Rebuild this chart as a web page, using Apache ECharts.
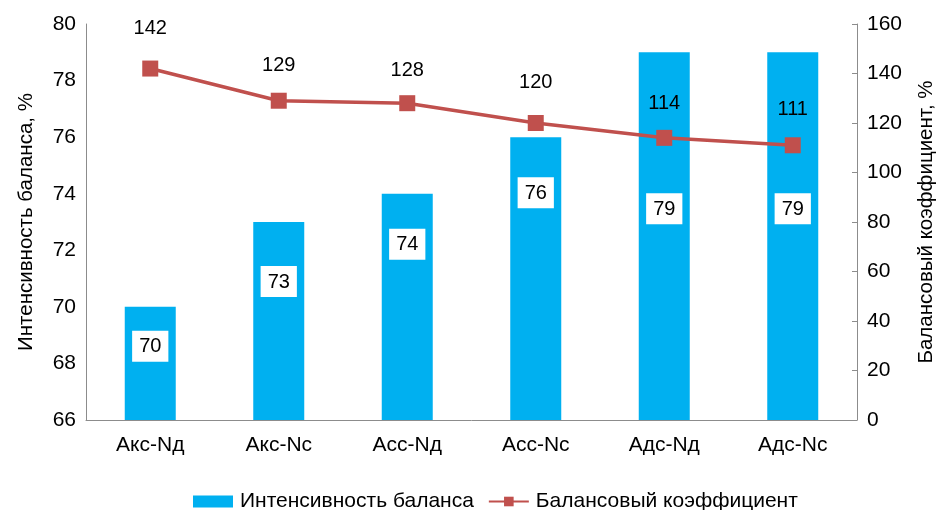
<!DOCTYPE html>
<html>
<head>
<meta charset="utf-8">
<script src="https://cdn.jsdelivr.net/npm/echarts@6/dist/echarts.min.js"></script>
<style>
  html, body { margin: 0; padding: 0; background: #fff; }
  #chart { width: 942px; height: 510px; }
</style>
</head>
<body>
<div id="chart"></div>
<script>
// Categories and series values
const categories = ['Акс-Nд', 'Акс-Nс', 'Асс-Nд', 'Асс-Nс', 'Адс-Nд', 'Адс-Nс'];
const intensity = [70, 73, 74, 76, 79, 79];          // Интенсивность баланса, %
const coefficient = [142, 129, 128, 120, 114, 111];  // Балансовый коэффициент, %

const FONT = '"Liberation Sans", Arial, sans-serif';
const AXIS_COLOR = '#8c8c8c';

// Placement of value labels (px): box below each bar top, number above each marker
const barLabelDistance = [24, 44, 35, 40, 141, 141];
const lineLabelDistance = [22, 17, 15, 23, 16, 18];

const chart = echarts.init(document.getElementById('chart'), null, { renderer: 'canvas' });

chart.setOption({
  animation: false,
  textStyle: { fontFamily: FONT },
  grid: { left: 86, right: 85, top: 24, bottom: 90, outerBoundsMode: 'none' },
  legend: {
    top: 486,
    left: 188,
    itemWidth: 40,
    itemHeight: 12,
    itemGap: 14,
    textStyle: { fontFamily: FONT, fontSize: 21, color: '#000', padding: [0, 0, 0, 2] },
    data: [
      { name: 'Интенсивность баланса', icon: 'rect' },
      { name: 'Балансовый коэффициент' }
    ]
  },
  xAxis: {
    type: 'category',
    data: categories,
    axisLine: { lineStyle: { color: AXIS_COLOR, width: 1 } },
    axisTick: { show: false },
    axisLabel: { color: '#000', fontSize: 21, fontFamily: FONT, margin: 15 }
  },
  yAxis: [
    {
      type: 'value',
      min: 66, max: 80, interval: 2,
      name: 'Интенсивность баланса, %',
      nameLocation: 'middle',
      nameRotate: 90,
      nameGap: 49,
      nameTextStyle: { color: '#000', fontSize: 20.5, fontFamily: FONT },
      axisLine: { show: true, lineStyle: { color: AXIS_COLOR } },
      axisTick: { show: false },
      splitLine: { show: false },
      axisLabel: { color: '#000', fontSize: 21, fontFamily: FONT, margin: 10 }
    },
    {
      type: 'value',
      min: 0, max: 160, interval: 20,
      name: 'Балансовый коэффициент, %',
      nameLocation: 'middle',
      nameRotate: 90,
      nameGap: 59,
      nameTextStyle: { color: '#000', fontSize: 20.5, fontFamily: FONT },
      axisLine: { show: true, lineStyle: { color: AXIS_COLOR } },
      axisTick: { show: true, inside: true, length: 5, lineStyle: { color: AXIS_COLOR } },
      splitLine: { show: false },
      axisLabel: { color: '#000', fontSize: 21, fontFamily: FONT, margin: 10 }
    }
  ],
  series: [
    {
      name: 'Интенсивность баланса',
      type: 'bar',
      yAxisIndex: 0,
      barWidth: 51,
      itemStyle: { color: '#00B0F0' },
      data: intensity.map((v, i) => ({
        value: v,
        label: { distance: barLabelDistance[i] }
      })),
      label: {
        show: true,
        position: 'insideTop',
        color: '#000',
        fontSize: 20,
        fontFamily: FONT,
        backgroundColor: '#fff',
        padding: [6, 7, 5, 7]
      }
    },
    {
      name: 'Балансовый коэффициент',
      type: 'line',
      yAxisIndex: 1,
      data: coefficient.map((v, i) => ({
        value: v,
        label: { distance: lineLabelDistance[i] }
      })),
      symbol: 'rect',
      symbolSize: 16,
      lineStyle: { color: '#C0504D', width: 3.5 },
      itemStyle: { color: '#C0504D' },
      label: {
        show: true,
        position: 'top',
        color: '#000',
        fontSize: 20,
        fontFamily: FONT
      }
    }
  ]
});
</script>
</body>
</html>
